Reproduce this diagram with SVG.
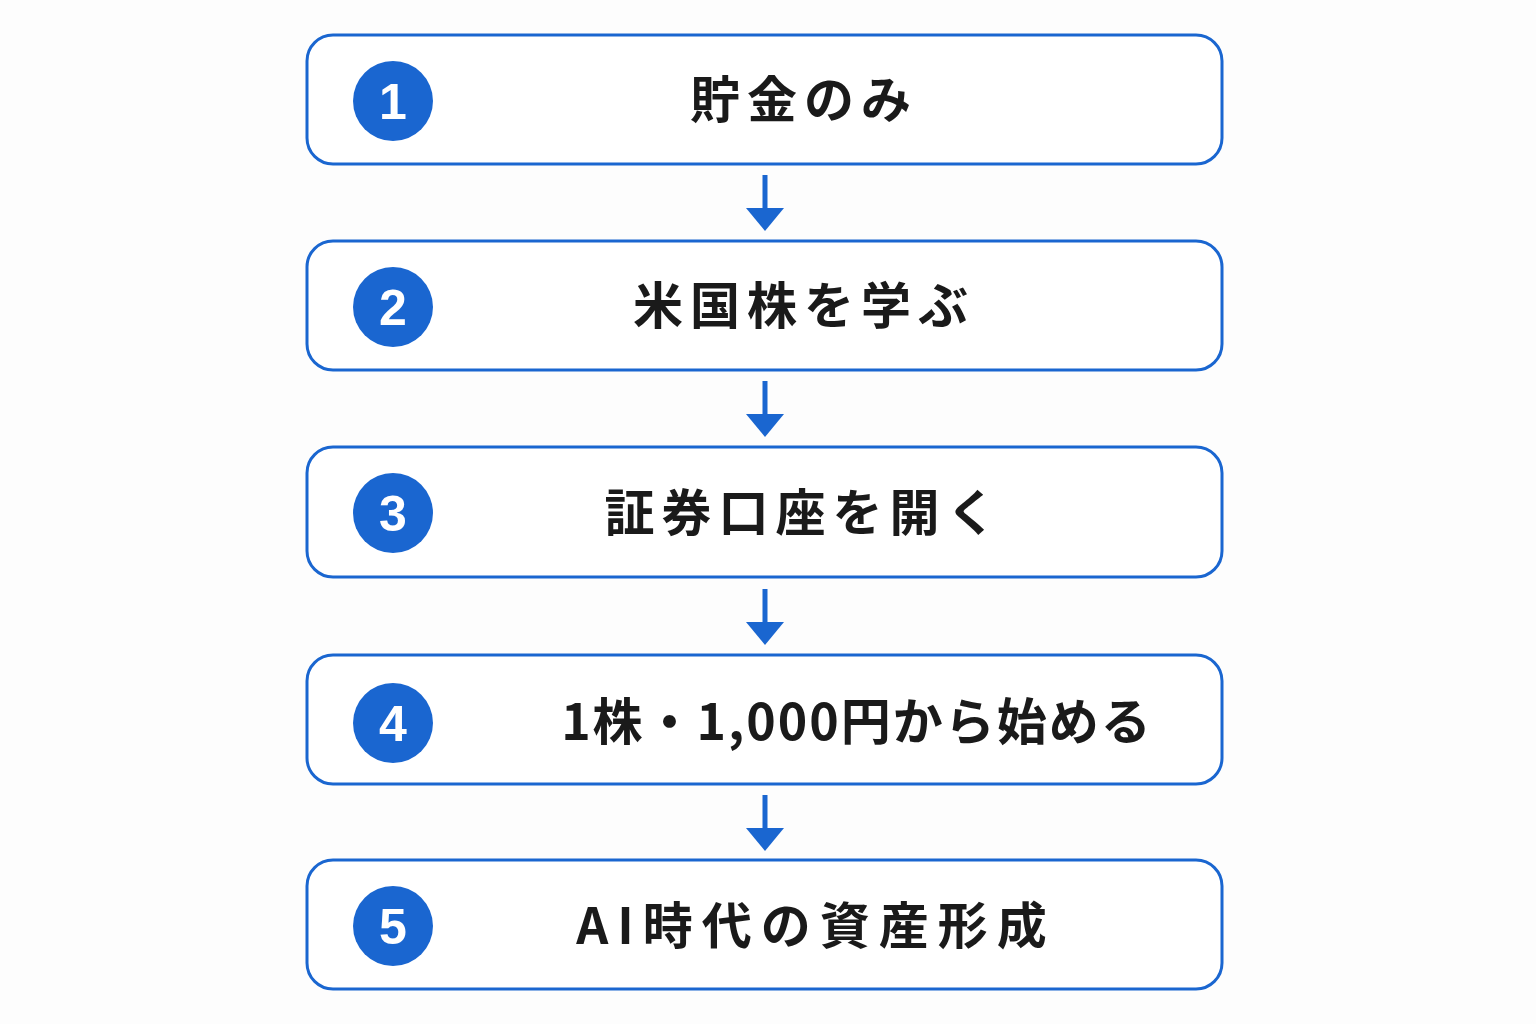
<svg xmlns="http://www.w3.org/2000/svg" width="1536" height="1024" viewBox="0 0 1536 1024">
<style>
.box{fill:#fff;stroke:#1a66d0;stroke-width:3}
.c{fill:#1a66d0}
.n{font-family:"Liberation Sans",Arial,sans-serif;font-weight:bold;font-size:50px;fill:#fff;text-anchor:middle}
.t{font-family:"Noto Sans CJK JP","Noto Sans",sans-serif;font-weight:bold;font-size:50px;fill:#1a1a1a;text-anchor:middle;letter-spacing:7px}
.a{stroke:#1a66d0;stroke-width:5;fill:none}
</style>
<rect width="1536" height="1024" fill="#fdfdfd"/>
<g id="connectors" fill="#1a66d0">
<line class="a" x1="765" y1="175" x2="765" y2="212"/><path d="M746,208 L784,208 L765,231 Z"/>
<line class="a" x1="765" y1="381" x2="765" y2="418"/><path d="M746,414 L784,414 L765,437 Z"/>
<line class="a" x1="765" y1="589" x2="765" y2="626"/><path d="M746,622 L784,622 L765,645 Z"/>
<line class="a" x1="765" y1="795" x2="765" y2="832"/><path d="M746,828 L784,828 L765,851 Z"/>
</g>
<g id="n1"><rect class="box" x="307" y="35" width="915" height="129" rx="26"/><circle class="c" cx="393" cy="101" r="40"/><text class="n" x="393" y="119">1</text><text class="t" x="804" y="118">貯金のみ</text></g>
<g id="n2"><rect class="box" x="307" y="241" width="915" height="129" rx="26"/><circle class="c" cx="393" cy="307" r="40"/><text class="n" x="393" y="325">2</text><text class="t" x="804" y="324">米国株を学ぶ</text></g>
<g id="n3"><rect class="box" x="307" y="447" width="915" height="130" rx="26"/><circle class="c" cx="393" cy="513" r="40"/><text class="n" x="393" y="531">3</text><text class="t" x="804" y="531">証券口座を開く</text></g>
<g id="n4"><rect class="box" x="307" y="655" width="915" height="129" rx="26"/><circle class="c" cx="393" cy="723" r="40"/><text class="n" x="393" y="741">4</text><text class="t" x="857" y="740" style="letter-spacing:2px">1株・1,000円から始める</text></g>
<g id="n5"><rect class="box" x="307" y="860" width="915" height="129" rx="26"/><circle class="c" cx="393" cy="926" r="40"/><text class="n" x="393" y="944">5</text><text class="t" x="816" y="944" style="letter-spacing:9px">AI時代の資産形成</text></g>
</svg>
